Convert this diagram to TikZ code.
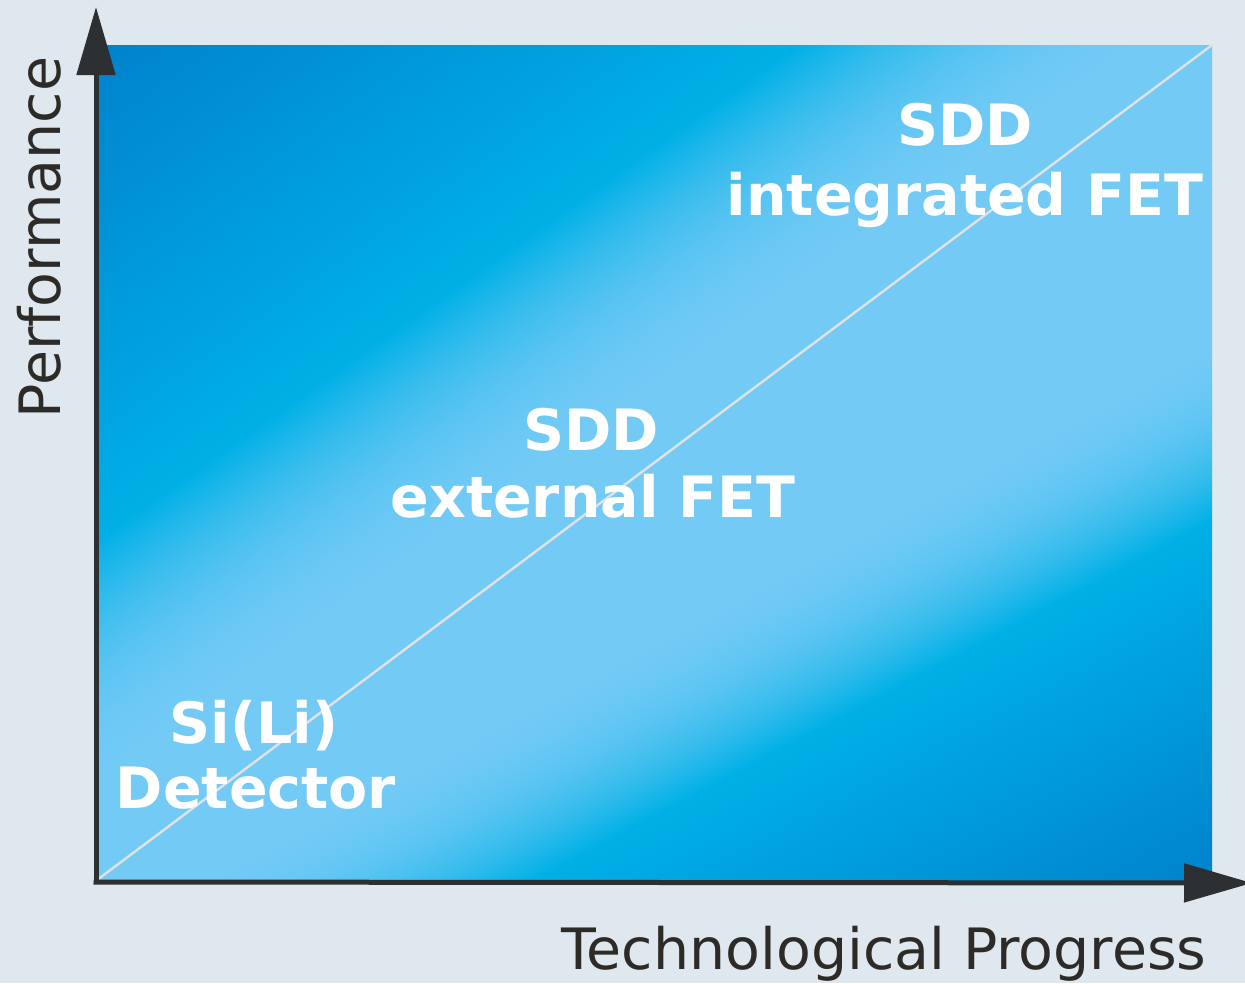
\documentclass[tikz,border=0pt]{standalone}
\usepackage{fontspec}
\setmainfont{DejaVu Sans}
\usetikzlibrary{arrows.meta}
\definecolor{bgc}{HTML}{DFE8EE}
\definecolor{axisc}{HTML}{2C3032}
\definecolor{txtc}{HTML}{2D2B28}
\definecolor{diagc}{HTML}{E0E2E4}
\pgfdeclarefunctionalshading{bands}{\pgfpoint{0bp}{0bp}}{\pgfpoint{100bp}{100bp}}{}{
  2 copy 0.033736 mul exch -0.031799 mul add -0.73526 add
  3 1 roll
  -0.046390 mul exch 0.032817 mul add -0.30147 add
  2 copy lt {exch} if pop
  dup -0.5 lt
  { pop 0.447 0.792 0.961 }
  { dup 0 lt
    { 0.5 add 0.5 div dup mul
      dup -0.447 mul 0.447 add exch
      dup -0.102 mul 0.792 add exch
      -0.061 mul 0.961 add }
    { dup 1 gt {pop 1} if
      dup -0.18 mul 0.69 add exch
      -0.10 mul 0.90 add
      0 3 1 roll }
    ifelse }
  ifelse
}
\tikzset{
  lbl/.style={text=white, inner sep=0pt, anchor=base,
    font=\bfseries\fontsize{57}{57}\selectfont},
  axlbl/.style={text=txtc, inner sep=0pt, anchor=base,
    font=\fontsize{57}{57}\selectfont},
  axisline/.style={draw=axisc, line width=5pt,
    -{Triangle[length=68pt,width=38pt]}}
}
\begin{document}
\begin{tikzpicture}[x=1pt,y=-1pt]
\path[use as bounding box, fill=bgc] (0,0) rectangle (1245,983);
\coordinate (TL) at (97,45);
\coordinate (BR) at (1212,880);
\shade[shading=bands] (TL) rectangle (BR);
\coordinate (dA) at (97,880);
\coordinate (dB) at (1212,45);
\draw[diagc, line width=2.4pt] (dA) -- (dB);
\coordinate (O) at (96,882);
\coordinate (ytip) at (96,7);
\coordinate (xtip) at (1252,883);
\draw[axisline] (O) -- (ytip);
\draw[axisline] ([xshift=-2.5pt]O) -- (xtip);
\node[lbl] (sdd1) at (965,145) {SDD};
\node[lbl] (fet1) at (965,215) {integrated FET};
\node[lbl] (sdd2) at (591,450) {SDD};
\node[lbl] (fet2) at (593,517) {external FET};
\node[lbl] (sili) at (254,743) {Si(Li)};
\node[lbl] (det) at (256,808) {Detector};
\node[axlbl] (xl) at (884,969) {Technological Progress};
\node[axlbl, rotate=90] (yl) at (60,237.5) {Performance};
\end{tikzpicture}
\end{document}
